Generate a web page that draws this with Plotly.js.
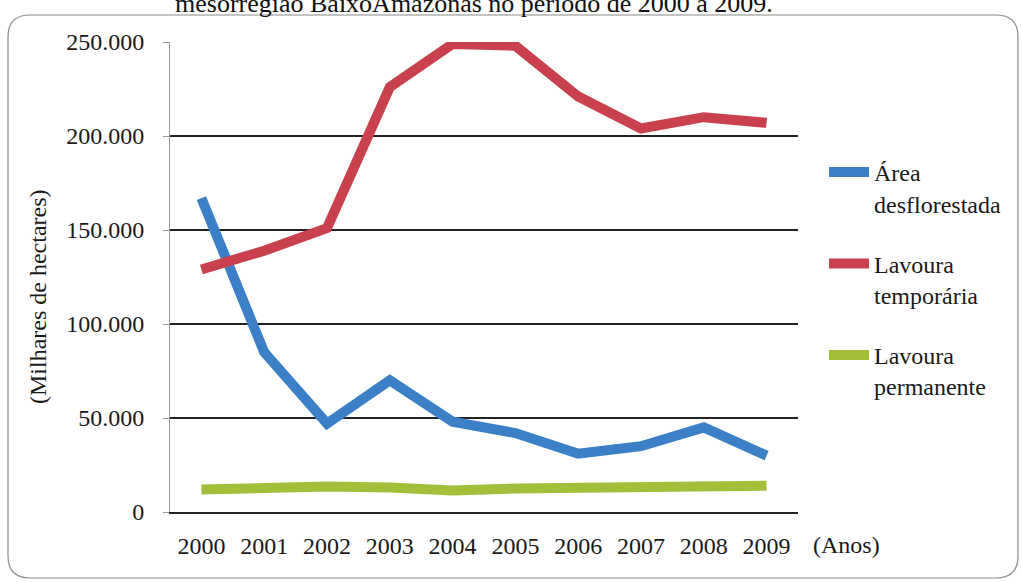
<!DOCTYPE html>
<html>
<head>
<meta charset="utf-8">
<script src="https://cdn.plot.ly/plotly-3.0.1.min.js"></script>
<style>
  html, body { margin: 0; padding: 0; background: #ffffff; }
  #chart { width: 1022px; height: 582px; }
</style>
</head>
<body>
<div id="chart"></div>
<script>
// ---- Data ----
const years = ['2000','2001','2002','2003','2004','2005','2006','2007','2008','2009'];
const areaDesflorestada = [167000, 85000, 47000, 70000, 48000, 42000, 31000, 35000, 45000, 30000];
const lavouraTemporaria = [129000, 139000, 151000, 226000, 249000, 248000, 221000, 204000, 210000, 207000];
const lavouraPermanente = [12000, 13000, 13500, 13000, 11500, 12500, 13000, 13000, 13000, 14000];
const seriesNames = ['Área<br>desflorestada', 'Lavoura<br>temporária', 'Lavoura<br>permanente'];
const yTickValues = [0, 50000, 100000, 150000, 200000, 250000];
const captionText = 'mesorregião BaixoAmazonas no período de 2000 a 2009.';
const yTitleText = '(Milhares de hectares)';
const xTitleText = '(Anos)';

const serif = 'Liberation Serif';
const colors = ['#3b80c6', '#c8414c', '#a3bf3a'];

const W = 1022, H = 582;
const L = 170, R = 798, T = 42, B = 512;
const pw = R - L, ph = B - T;
const px = x => (x - L) / pw;
const py = y => (B - y) / ph;

const traces = [areaDesflorestada, lavouraTemporaria, lavouraPermanente].map((vals, i) => ({
  type: 'scatter',
  mode: 'lines',
  x: years,
  y: vals,
  name: seriesNames[i],
  legendgroup: 'g' + i,
  line: { color: colors[i], width: 10 },
  cliponaxis: false,
  hoverinfo: 'skip'
}));

// rounded border rectangle in paper coordinates
const bx0 = px(8), bx1 = px(1018), by0 = py(578), by1 = py(15);
const rx = 22 / pw, ry = 22 / ph;
const borderPath =
  `M ${bx0 + rx},${by1} L ${bx1 - rx},${by1} Q ${bx1},${by1} ${bx1},${by1 - ry} ` +
  `L ${bx1},${by0 + ry} Q ${bx1},${by0} ${bx1 - rx},${by0} ` +
  `L ${bx0 + rx},${by0} Q ${bx0},${by0} ${bx0},${by0 + ry} ` +
  `L ${bx0},${by1 - ry} Q ${bx0},${by1} ${bx0 + rx},${by1} Z`;

const layout = {
  width: W, height: H,
  margin: { l: L, r: W - R, t: T, b: H - B, pad: 0 },
  paper_bgcolor: '#ffffff',
  plot_bgcolor: '#ffffff',
  separators: ',.',
  font: { family: serif, size: 24, color: '#1a1a1a' },
  showlegend: true,
  legend: {
    x: px(824), y: py(150), xanchor: 'left', yanchor: 'top',
    font: { family: serif, size: 24, color: '#1a1a1a' },
    traceorder: 'grouped',
    tracegroupgap: 26,
    itemwidth: 40,
    valign: 'top',
    bgcolor: 'rgba(0,0,0,0)'
  },
  xaxis: {
    type: 'category',
    range: [-0.5, 9.5],
    showgrid: false,
    showline: true,
    linecolor: '#222',
    linewidth: 1.5,
    ticks: '',
    tickfont: { family: serif, size: 24, color: '#1a1a1a' },
    ticklabelstandoff: 12,
    zeroline: false,
    fixedrange: true
  },
  yaxis: {
    range: [0, 250000],
    tickvals: yTickValues,
    tickformat: ',d',
    showgrid: true,
    gridcolor: '#222',
    gridwidth: 1.5,
    showline: true,
    linecolor: '#999',
    linewidth: 1,
    ticks: 'outside',
    ticklen: 6,
    tickcolor: '#999',
    tickfont: { family: serif, size: 24, color: '#1a1a1a' },
    ticklabelstandoff: 14,
    zeroline: false,
    fixedrange: true
  },
  shapes: [{
    type: 'path', xref: 'paper', yref: 'paper',
    path: borderPath,
    line: { color: '#8a8a8a', width: 1.2 },
    fillcolor: 'rgba(0,0,0,0)',
    layer: 'below'
  }],
  annotations: [
    {
      text: captionText, xref: 'paper', yref: 'paper',
      x: px(474), y: py(20), xanchor: 'center', yanchor: 'bottom',
      showarrow: false, font: { family: serif, size: 26, color: '#111' }
    },
    {
      text: yTitleText, xref: 'paper', yref: 'paper',
      x: px(38), y: py(297), xanchor: 'center', yanchor: 'middle',
      textangle: -90, showarrow: false,
      font: { family: serif, size: 24, color: '#1a1a1a' }
    },
    {
      text: xTitleText, xref: 'paper', yref: 'paper',
      x: px(846), y: py(545), xanchor: 'center', yanchor: 'middle',
      showarrow: false, font: { family: serif, size: 24, color: '#1a1a1a' }
    }
  ]
};

Plotly.newPlot('chart', traces, layout, { staticPlot: true, displayModeBar: false });
</script>
</body>
</html>
